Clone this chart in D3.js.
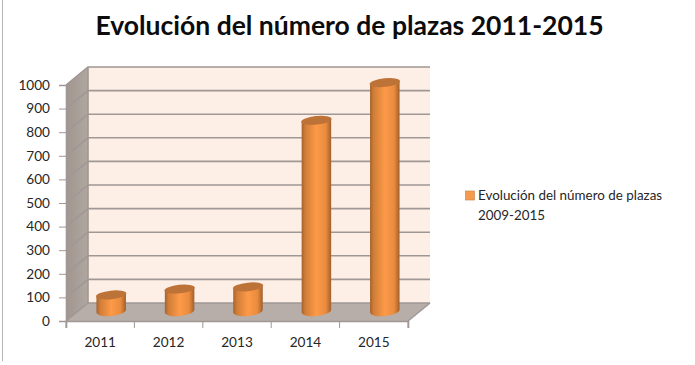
<!DOCTYPE html>
<html>
<head>
<meta charset="utf-8">
<script src="https://d3js.org/d3.v7.min.js"></script>
<style>
html, body { margin: 0; padding: 0; background: #fff; }
svg { display: block; }
text { font-family: Lato, "Open Sans", sans-serif; fill: #262626; }
</style>
</head>
<body>
<div id="map"></div>
<script>
var categories = ["2011", "2012", "2013", "2014", "2015"];
var plazas = [68, 93, 102, 808, 968];
var yTicks = [0, 100, 200, 300, 400, 500, 600, 700, 800, 900, 1000];
var titleText = "Evolución del número de plazas 2011-2015";
var legendLines = ["Evolución del número de plazas", "2009-2015"];

var width = 695, height = 365;
var depth = {x: 22, y: -18};   // 3d offset of the back wall
var bodyW = 29.5, ry = 5, tilt = -6;

var svg = d3.select("#map").append("svg")
    .attr("width", width)
    .attr("height", height);

var defs = svg.append("defs");
var barGrad = defs.append("linearGradient").attr("id", "barGrad");
[[0, "#a4622c"], [0.12, "#d07d38"], [0.5, "#fd9a48"], [0.82, "#e98b3e"], [1, "#a15f2b"]].forEach(d => {
    barGrad.append("stop").attr("offset", d[0]).attr("stop-color", d[1]);
});
var wallGrad = defs.append("linearGradient").attr("id", "wallGrad");
wallGrad.append("stop").attr("offset", 0).attr("stop-color", "#a1968f");
wallGrad.append("stop").attr("offset", 1).attr("stop-color", "#b0a7a1");

var x = d3.scaleBand().domain(categories).range([66, 408]);
var y = d3.scaleLinear().domain([0, 1000]).range([321, 85]);
var x0 = x.range()[0], x1 = x.range()[1];

// picture border on the left
svg.append("line")
    .attr("x1", 2.5).attr("x2", 2.5).attr("y1", 0).attr("y2", 361)
    .attr("stroke", "#b4b4b4").attr("stroke-width", 1);

// back wall, side wall, floor
var poly = pts => pts.map(p => p.join(",")).join(" ");
svg.append("polygon")
    .attr("points", poly([[x0 + depth.x, y(1000) + depth.y], [x1 + depth.x, y(1000) + depth.y],
                          [x1 + depth.x, y(0) + depth.y], [x0 + depth.x, y(0) + depth.y]]))
    .attr("fill", "#fdeee6");
svg.append("polygon")
    .attr("points", poly([[x0, y(1000)], [x0 + depth.x, y(1000) + depth.y],
                          [x0 + depth.x, y(0) + depth.y], [x0, y(0)]]))
    .attr("fill", "url(#wallGrad)");
svg.append("polygon")
    .attr("points", poly([[x0, y(0)], [x1, y(0)], [x1 + depth.x, y(0) + depth.y], [x0 + depth.x, y(0) + depth.y]]))
    .attr("fill", "#b7aeaa");

// gridlines
var grid = svg.append("g").attr("fill", "none").attr("stroke", "#a09894").attr("stroke-width", 1.6);
yTicks.forEach(t => {
    grid.append("polyline")
        .attr("points", poly([[x0, y(t)], [x0 + depth.x, y(t) + depth.y], [x1 + depth.x, y(t) + depth.y]]));
});
grid.append("line")
    .attr("x1", x0 + depth.x).attr("x2", x0 + depth.x)
    .attr("y1", y(1000) + depth.y).attr("y2", y(0) + depth.y);
grid.append("line")
    .attr("x1", x1).attr("y1", y(0))
    .attr("x2", x1 + depth.x).attr("y2", y(0) + depth.y);

// axes
var yAxis = svg.append("g")
    .attr("transform", "translate(" + x0 + ",0)")
    .call(d3.axisLeft(y).tickValues(yTicks).tickSize(7).tickPadding(9).tickFormat(d3.format("d")));
var xAxis = svg.append("g")
    .attr("transform", "translate(0," + y(0) + ")")
    .call(d3.axisBottom(x).tickSize(7).tickPadding(9));
[yAxis, xAxis].forEach(a => {
    a.selectAll("path, line").attr("stroke", "#a09894");
    a.select(".domain").attr("stroke-width", 1.6);
    a.selectAll("text").style("font-size", "13.6px").style("font-family", "Lato");
});
// ticks sit on the band edges
xAxis.selectAll(".tick line").remove();
x.domain().concat([null]).forEach((c, i) => {
    var px = x0 + i * x.step();
    xAxis.append("line").attr("x1", px).attr("x2", px).attr("y1", 0).attr("y2", 7).attr("stroke", "#a09894");
});

// cylinders
var bars = svg.append("g").selectAll("g").data(categories).join("g")
    .attr("transform", c => "translate(" + (x(c) + x.bandwidth() / 2 + depth.x / 2) + ",0)");
var baseY = y(0) + depth.y / 2 - 1;
var topY = (d, i) => y(plazas[i]) + depth.y / 2 - 1;
var hw = bodyW / 2;
var lean = hw * Math.tan(-tilt * Math.PI / 180);
bars.append("path")
    .attr("d", (c, i) => {
        return "M" + (-hw) + "," + (topY(c, i) + lean)
            + "L" + (-hw) + "," + (baseY + lean)
            + "A" + hw + "," + ry + " " + tilt + " 0 0 " + hw + "," + (baseY - lean)
            + "L" + hw + "," + (topY(c, i) - lean)
            + "Z";
    })
    .attr("fill", "url(#barGrad)");
bars.append("ellipse")
    .attr("cx", 0)
    .attr("cy", topY)
    .attr("rx", hw + 0.5)
    .attr("ry", ry - 0.7)
    .attr("transform", (c, i) => "rotate(" + tilt + " 0 " + topY(c, i) + ")")
    .attr("fill", "#bd7238");

// title
svg.append("text")
    .attr("x", 349.5)
    .attr("y", 35)
    .attr("text-anchor", "middle")
    .style("font-size", "26.5px")
    .style("font-weight", "700")
    .style("fill", "#0c0c0c")
    .text(titleText);

// legend
svg.append("rect")
    .attr("x", 465.5).attr("y", 191).attr("width", 9).attr("height", 9)
    .attr("fill", "#f79a4f").attr("stroke", "#c98a58").attr("stroke-width", 0.7);
legendLines.forEach((t, i) => {
    svg.append("text")
        .attr("x", 478)
        .attr("y", 200 + i * 19.5)
        .style("font-size", "13.4px")
        .text(t);
});
</script>
</body>
</html>
